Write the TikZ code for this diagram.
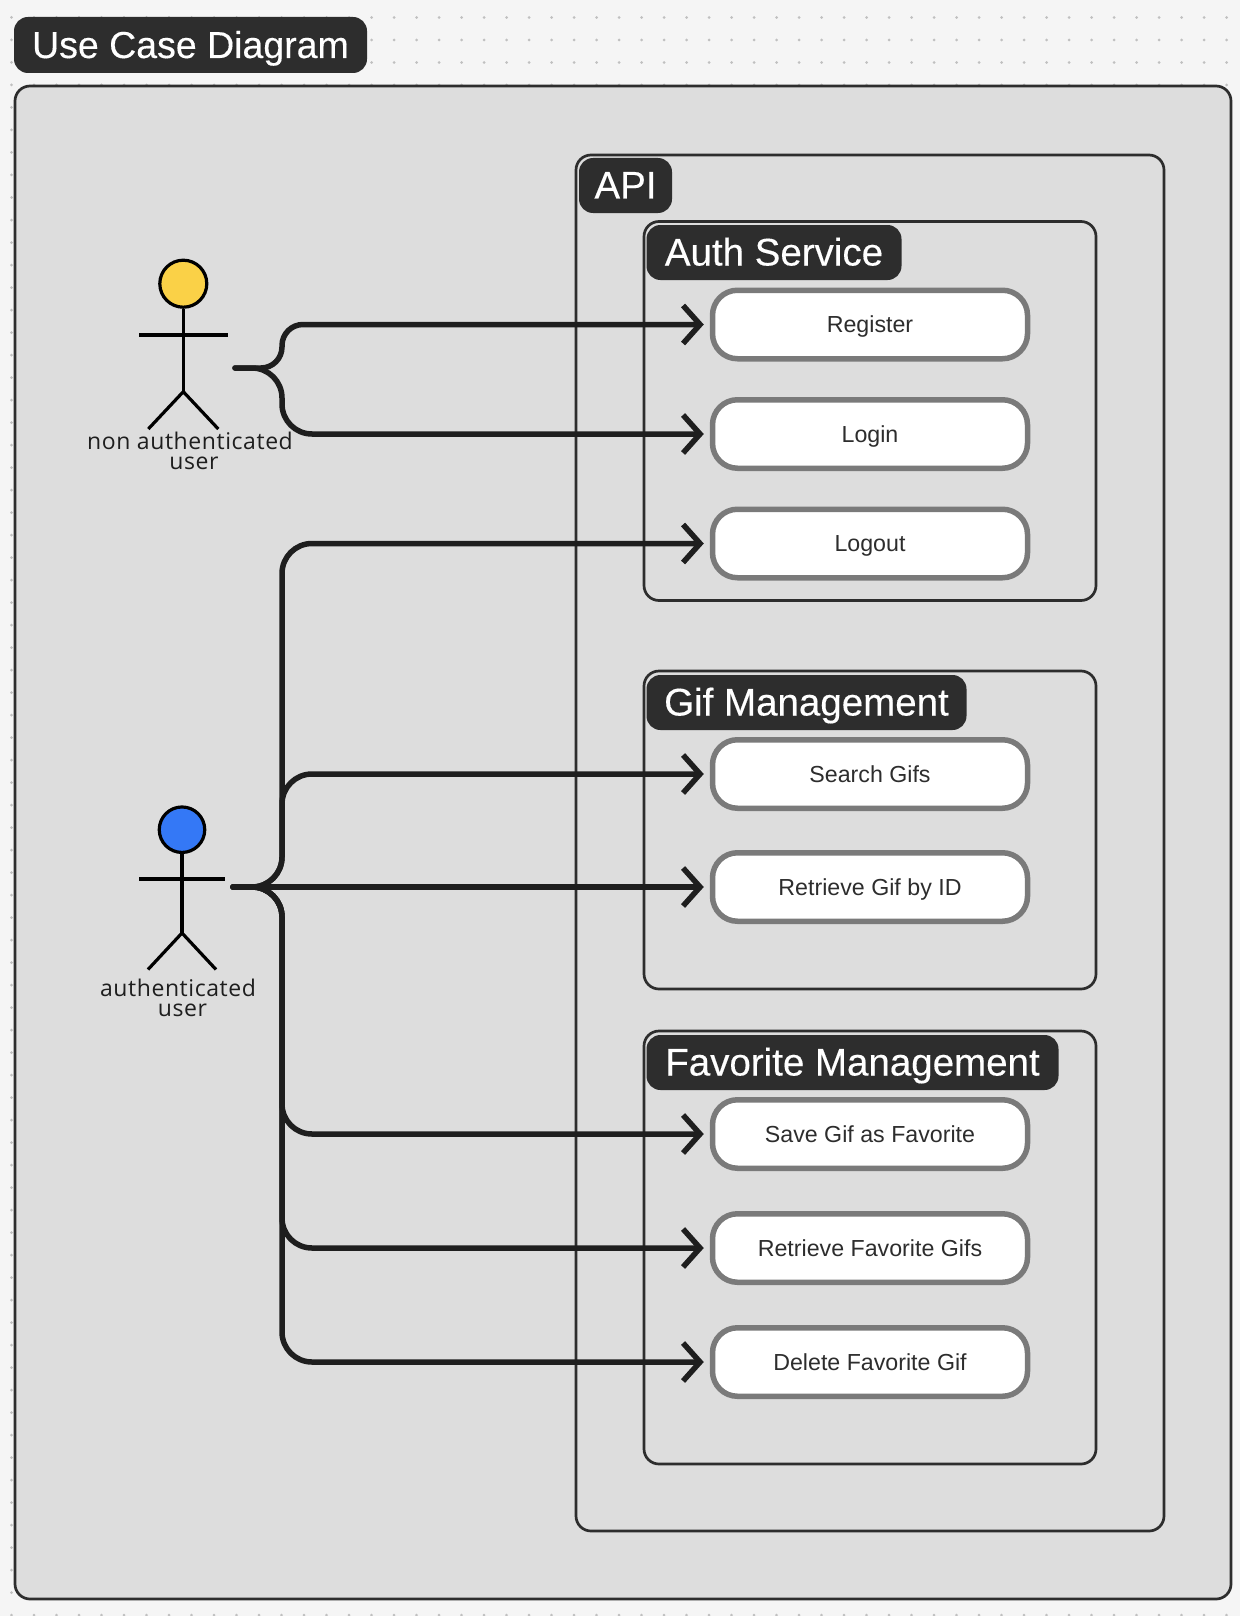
\documentclass[tikz,border=0pt]{standalone}
\usepackage{fontspec}
\setmainfont{Liberation Sans}
\newfontfamily\pillfont{Liberation Sans}[FakeBold=0.3]
\newfontfamily\actorfont{Open Sans}[LetterSpace=2.5]
\usetikzlibrary{arrows.meta}
\definecolor{canvasgray}{HTML}{F5F5F5}
\definecolor{dotgray}{HTML}{C0C0C0}
\definecolor{panelgray}{HTML}{DDDDDD}
\definecolor{inkdark}{HTML}{2D2D2D}
\definecolor{flowdark}{HTML}{1E1E1E}
\definecolor{boxgray}{HTML}{7A7A7A}
\definecolor{headyellow}{HTML}{FAD147}
\definecolor{headblue}{HTML}{3478F6}
\tikzset{
	panel/.style={draw=inkdark, line width=2.7pt, rounded corners=15pt, inner sep=0pt},
	pill/.style={fill=inkdark, text=white, rounded corners=14pt, inner sep=0pt, text height=26pt, text depth=0pt,
			font=\pillfont\fontsize{38.5}{38.5}\selectfont},
	usecase/.style={draw=boxgray, fill=white, line width=5.5pt, rounded corners=25pt, inner sep=0pt,
			minimum width=315pt, minimum height=68.5pt, text height=16.5pt, text depth=0pt, text=inkdark,
			font=\fontsize{23.2}{23.2}\selectfont},
	flow/.style={draw=flowdark, line width=5.5pt, line cap=round, shorten >=6pt,
			-{Straight Barb[length=17pt,width=38pt]}},
	head/.style={circle, draw=black, line width=3.2pt, inner sep=0pt},
	limb/.style={draw=black, line width=3.2pt},
	actorlabel/.style={align=center, inner sep=0pt, text=flowdark, font=\actorfont\fontsize{23}{20}\selectfont}
}
\begin{document}
\begin{tikzpicture}[x=1pt, y=-1pt]
	\useasboundingbox (0, 0) rectangle (1240, 1616);
	\fill[canvasgray] (0, 0) rectangle (1240, 1616);
	\foreach \i in {0,...,54}
		\foreach \j in {0,...,71}
			\fill[dotgray] (11.5+22.5*\i, 17.5+22.5*\j) circle (1.5pt);

	% containers
	\node[panel, fill=panelgray, minimum width=1216pt, minimum height=1513pt] (main) at (623, 842.5) {};
	\node[panel, minimum width=588pt, minimum height=1376pt] (api) at (870, 843) {};
	\node[panel, minimum width=452pt, minimum height=379pt] (authbox) at (870, 411) {};
	\node[panel, minimum width=452pt, minimum height=318pt] (gifbox) at (870, 830) {};
	\node[panel, minimum width=452pt, minimum height=433pt] (favbox) at (870, 1247.5) {};

	\node[pill, minimum width=353pt, minimum height=56pt, font=\pillfont\fontsize{37.5}{37.5}\selectfont] (title) at (190.5, 45) {Use Case Diagram};
	\node[pill, minimum width=93pt, minimum height=55pt] (apilabel) at (625.5, 185.5) {API};
	\node[pill, minimum width=255pt, minimum height=55pt] (authlabel) at (774, 252.5) {Auth Service};
	\node[pill, minimum width=320pt, minimum height=55pt] (giflabel) at (806.5, 702.5) {Gif Management};
	\node[pill, minimum width=412pt, minimum height=55pt] (favlabel) at (852.5, 1062.5) {Favorite Management};

	% use cases
	\node[usecase] (register) at (870, 324.5) {Register};
	\node[usecase] (login) at (870, 434) {Login};
	\node[usecase] (logout) at (870, 543.5) {Logout};
	\node[usecase] (search) at (870, 774) {Search Gifs};
	\node[usecase] (retrieve) at (870, 887) {Retrieve Gif by ID};
	\node[usecase] (save) at (870, 1134) {Save Gif as Favorite};
	\node[usecase] (favorites) at (870, 1248) {Retrieve Favorite Gifs};
	\node[usecase] (delete) at (870, 1362) {Delete Favorite Gif};

	% actors
	\node[head, fill=headyellow, minimum size=47pt] (guest) at (183.3, 283.7) {};
	\draw[limb] (guest.south) -- (183.3, 391.7) coordinate (guesthip);
	\draw[limb] (139, 335) -- (228, 335);
	\draw[limb] (148.3, 429) -- (guesthip) -- (218.3, 429);
	\node[actorlabel] (guestlabel) at (190, 451) {non authenticated\\\hspace*{8pt}user};

	\node[head, fill=headblue, minimum size=45.5pt] (member) at (182, 829.7) {};
	\draw[limb] (member.south) -- (182, 933) coordinate (memberhip);
	\draw[limb] (139.3, 879) -- (225, 879);
	\draw[limb] (148, 969.5) -- (memberhip) -- (216, 969.5);
	\node[actorlabel] (memberlabel) at (178, 997.5) {authenticated\\\hspace*{9pt}user};

	% connectors
	\coordinate (guestout) at (235, 368);
	\coordinate (guestbus) at (282, 368);
	\coordinate (memberout) at (233, 887);
	\coordinate (memberbus) at (282, 887);

	\draw[flow, rounded corners=21pt] (guestout) -- (guestbus) -- (guestbus |- register.west) -- (register.west);
	\draw[flow, rounded corners=30pt] (guestout) -- (guestbus) -- (guestbus |- login.west) -- (login.west);

	\foreach \target in {logout, search, save, favorites, delete}
		\draw[flow, rounded corners=30pt] (memberout) -- (memberbus) -- (memberbus |- \target.west) -- (\target.west);
	\draw[flow] (memberout) -- (retrieve.west);
\end{tikzpicture}
\end{document}
